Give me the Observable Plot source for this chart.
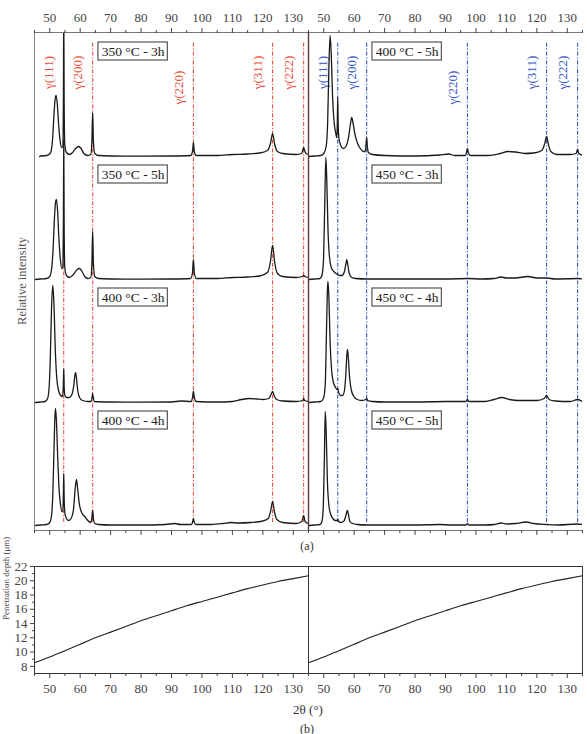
<!DOCTYPE html>
<html><head><meta charset="utf-8">
<script src="https://cdn.jsdelivr.net/npm/d3@7"></script>
<script src="https://cdn.jsdelivr.net/npm/@observablehq/plot@0.6"></script>
<style>
body{margin:0;background:#fff;}
#wrap{position:relative;width:587px;height:734px;overflow:hidden;background:#fff;font-family:"Liberation Serif","DejaVu Serif",serif;color:#333;}
.pane{position:absolute;}
.lbl{position:absolute;white-space:nowrap;transform:translate(-50%,-50%);color:#333;}
</style></head><body>
<div id="wrap">
  <div class="pane" id="aL" style="left:0;top:0"></div>
  <div class="pane" id="aR" style="left:308px;top:0"></div>
  <div class="pane" id="bL" style="left:0;top:540px"></div>
  <div class="pane" id="bR" style="left:308px;top:540px"></div>
  <div class="lbl" style="left:22px;top:281px;font-size:12.5px;color:#555;transform:translate(-50%,-50%) rotate(-90deg)">Relative intensity</div>
  <div class="lbl" style="left:307px;top:546px;font-size:12px">(a)</div>
  <div class="lbl" style="left:308px;top:710px;font-size:13px">2θ (°)</div>
  <div class="lbl" style="left:307px;top:729px;font-size:12px">(b)</div>
</div>
<script>
// ---------- data ----------
const xDomain = [45, 135];
const xTickLabels = [50, 60, 70, 80, 90, 100, 110, 120, 130];
const xMinorTicks = [45, 55, 65, 75, 85, 95, 105, 115, 125, 135];
const peakPositions = [54.6, 64.1, 97.2, 123.2, 133.4];
const peakLabels = ["γ(111)", "γ(200)", "γ(220)", "γ(311)", "γ(222)"];
const leftConditions = ["350 °C - 3h", "350 °C - 5h", "400 °C - 3h", "400 °C - 4h"];
const rightConditions = ["400 °C - 5h", "450 °C - 3h", "450 °C - 4h", "450 °C - 5h"];
const stackOffsets = [369, 246, 123, 0];

const scan350_3h = [[46.7,0],[47,0.5],[49,1],[50,2.5],[50.5,6],[51.0,20],[51.4,42],[51.8,58],[52.1,61],[52.5,52],[52.9,33],[53.4,16],[53.9,9],[54.3,10],[54.5,60],[54.6,150],[54.72,60],[54.95,12],[55.5,4],[56.5,2],[57.5,4],[58.5,8],[59.5,10],[60.3,8],[61.2,3],[62.5,1],[63.5,2],[63.85,15],[64.1,44],[64.35,15],[64.8,3],[66,1],[70,0.5],[80,0.3],[90,0.5],[96.3,1],[96.9,5],[97.2,14],[97.5,5],[98.1,1],[105,1],[110,2],[115,2.5],[119,3.5],[121.5,6],[122.5,13],[123.2,23],[123.9,12],[124.8,5],[126.5,3],[131,2],[132.7,3],[133.1,6],[133.4,9],[133.7,6],[134.2,3],[135,2]];
const scan350_5h = [[45.2,0],[47,0.5],[49,1],[50,3],[50.6,10],[51.1,30],[51.5,58],[51.9,77],[52.2,80],[52.6,68],[53.0,42],[53.5,20],[54.0,11],[54.35,12],[54.5,60],[54.6,140],[54.72,60],[54.95,12],[55.5,4],[56.5,2],[57.8,5],[59.0,10],[59.8,11],[60.6,8],[61.5,3],[62.5,1],[63.5,2],[63.85,16],[64.1,48],[64.35,16],[64.8,3],[66,1],[70,0.5],[80,0.3],[90,0.5],[96.3,1],[96.9,7],[97.2,20],[97.5,7],[98.1,1],[105,1],[110,2],[115,2.5],[119,3.5],[121.5,7],[122.5,18],[123.2,34],[123.9,17],[124.8,6],[126.5,3],[131,2],[133.0,3],[133.4,4],[133.8,3],[135,2]];
const scan400_3h = [[45.2,0],[47,0.5],[48.5,1],[49.3,4],[49.8,15],[50.2,45],[50.6,95],[51.0,117],[51.4,98],[51.8,55],[52.3,25],[52.9,12],[53.6,7],[54.2,6],[54.45,15],[54.6,34],[54.75,15],[55.0,7],[55.6,5],[56.5,5],[57.3,8],[57.9,17],[58.3,28],[58.5,30],[58.8,24],[59.2,12],[59.8,5],[60.8,2],[62.5,1],[63.6,1],[63.9,5],[64.1,9],[64.3,5],[64.7,1],[70,0.5],[80,0.3],[90,0.5],[93,1.5],[96.5,1],[96.9,5],[97.2,11],[97.5,5],[98.1,1],[105,0.5],[110,1],[113,3],[115.5,4],[118,3.5],[120,3],[122,4],[122.7,8],[123.2,11],[123.7,7],[124.5,3],[126.5,1.5],[131,1],[133.1,2],[133.4,4],[133.7,2],[135,1]];
const scan400_4h = [[45.2,0],[47,0.5],[49,1],[50,3],[50.6,10],[51.0,30],[51.4,75],[51.7,108],[51.9,117],[52.2,105],[52.6,70],[53.0,40],[53.5,22],[54.0,14],[54.3,14],[54.48,30],[54.6,52],[54.72,30],[55.0,12],[55.5,7],[56.2,5],[57.0,7],[57.8,16],[58.4,38],[58.8,46],[59.2,36],[59.7,22],[60.5,13],[61.5,9],[62.5,5],[63.5,3],[63.85,8],[64.1,15],[64.35,7],[64.8,2],[66,1],[70,0.5],[80,0.5],[88,1],[91,2],[93,1],[96.5,1],[96.9,3],[97.2,7],[97.5,3],[98.1,1],[103,1],[107,2],[109.5,3],[112,2.5],[116,3],[120,4.5],[121.8,7],[122.6,15],[123.2,24],[123.8,14],[124.6,6],[126.5,3],[131,2],[132.8,4],[133.4,10],[133.9,4],[135,2]];

const scan400_5h = [[45.2,0],[47,0.5],[49,1],[50,3],[50.8,10],[51.3,35],[51.7,90],[52.1,121],[52.5,100],[52.9,60],[53.4,35],[53.9,24],[54.3,19],[54.48,35],[54.6,59],[54.72,35],[55.0,18],[55.6,11],[56.4,8],[57.3,10],[58.2,20],[58.8,33],[59.2,39],[59.6,34],[60.2,23],[61.0,14],[62.0,8],[63.0,5],[63.6,5],[63.9,12],[64.1,19],[64.3,11],[64.7,4],[66,2],[70,1],[80,0.5],[88,1.5],[91,2.5],[93,1],[96.5,1],[96.9,4],[97.2,8],[97.5,4],[98.1,1],[104,1],[108,3],[110.5,5],[113,4.5],[116,3],[119,3.5],[121.6,6],[122.6,13],[123.2,20],[123.8,12],[124.6,5],[126.5,2],[131,2],[132.9,3],[133.4,7],[133.8,3],[135,1.5]];
const scan450_3h = [[45.2,0],[47,0.5],[48.8,1],[49.4,4],[49.9,18],[50.3,70],[50.7,122],[51.0,100],[51.4,50],[51.9,22],[52.5,12],[53.3,8],[54.0,6],[54.6,5],[55.2,4],[56.0,4],[56.8,8],[57.3,16],[57.6,20],[57.9,15],[58.4,6],[59.2,2],[60.5,1],[64,0.5],[70,0.5],[80,0.5],[90,0.5],[97.2,1],[102,0.5],[106,1],[108.2,2.5],[110,1.5],[113,1.5],[117,3],[120,1.5],[123.2,1.5],[126,0.5],[133.4,1],[135,0.5]];
const scan450_4h = [[45.2,0],[47,0.5],[49,1],[49.9,4],[50.5,18],[50.9,70],[51.2,112],[51.4,121],[51.7,105],[52.1,60],[52.6,32],[53.2,20],[53.9,15],[54.4,13],[54.6,14],[54.9,10],[55.5,7],[56.2,7],[56.8,12],[57.3,30],[57.6,48],[57.8,53],[58.1,44],[58.5,25],[59.1,12],[59.9,6],[61,3],[62.5,2],[63.8,3],[64.1,4],[64.4,2],[66,1],[70,0.5],[80,0.5],[90,1],[96.7,1],[97.2,3],[97.7,1],[103,1],[106,3],[108.5,5],[111,3],[114,2],[117,2],[120,2],[122.4,4],[123.2,7],[124,3],[126,1.5],[131,1],[133.4,3],[135,1]];
const scan450_5h = [[45.2,0],[47,0.5],[48.8,1],[49.4,4],[49.8,15],[50.2,65],[50.5,114],[50.8,95],[51.2,45],[51.7,20],[52.3,11],[53.0,7],[53.8,5],[54.4,5],[54.6,6],[54.9,4],[55.6,3],[56.5,4],[57.2,9],[57.6,14],[57.8,15],[58.1,11],[58.6,4],[59.5,2],[61,1],[64,0.5],[70,0.5],[80,0.5],[88,1],[92,0.5],[96.8,0.5],[97.2,2],[97.6,0.5],[103,0.5],[106,1],[108.3,2.5],[110,1.5],[113,2],[116.5,3.5],[119,2],[123.2,1],[127,0.5],[133.4,1.5],[135,1]];

const leftScans = [scan350_3h, scan350_5h, scan400_3h, scan400_4h];
const rightScans = [scan400_5h, scan450_3h, scan450_4h, scan450_5h];

const depthTwoTheta = [45, 50, 55, 60, 65, 70, 75, 80, 85, 90, 95, 100, 105, 110, 115, 120, 125, 130, 135];
const depthMicrons = [8.5, 9.3, 10.2, 11.1, 12.0, 12.8, 13.6, 14.4, 15.1, 15.8, 16.5, 17.1, 17.7, 18.3, 18.9, 19.4, 19.9, 20.3, 20.7];
const depthTicks = [8, 10, 12, 14, 16, 18, 20, 22];
const depthMinorTicks = [9, 11, 13, 15, 17, 19, 21];

// ---------- drawing ----------
const baseStyle = {background: "transparent", fontFamily: "Liberation Serif, DejaVu Serif, serif", fontSize: "13px", color: "#444", overflow: "visible"};
const noText = () => "";

function xrdPanel({scans, conditions, color, width, marginLeft, marginRight, leftEdge, leftEdgeWidth}) {
  const rows = scans.flatMap((s, k) => s.map(([t, v]) => ({t, v: v + stackOffsets[k], k})));
  const yDom = [-5, 493];
  return Plot.plot({
    width, height: 540, marginTop: 32, marginBottom: 10, marginLeft, marginRight,
    x: {domain: xDomain, label: null},
    y: {domain: yDom, axis: null, label: null},
    style: baseStyle,
    marks: [
      Plot.ruleX(peakPositions, {y1: 3, y2: 483, stroke: color, strokeWidth: 1.1, strokeDasharray: "4,1.8,1.2,1.8"}),
      Plot.text(peakLabels, {x: (d, i) => peakPositions[i], y: d => d === "γ(220)" ? 438 : 453, rotate: -90, dx: -15, fill: color, fontSize: 13}),
      Plot.line(rows, {x: "t", y: "v", z: "k", curve: "monotone-x", stroke: "#1a1a1a", strokeWidth: 1.3, clip: true}),
      Plot.rect(conditions, {x1: 66, x2: 88.8, y1: (d, i) => stackOffsets[i] + 96, y2: (d, i) => stackOffsets[i] + 114, fill: "white", stroke: "#555", strokeWidth: 1.2}),
      Plot.text(conditions, {x: 77.4, y: (d, i) => stackOffsets[i] + 105, fontSize: 13.5, fill: "#222"}),
      Plot.ruleY([yDom[1]], {stroke: "#777"}),
      Plot.ruleY([yDom[0]], {stroke: "#777"}),
      Plot.ruleX([xDomain[0]], {stroke: leftEdge, strokeWidth: leftEdgeWidth}),
      Plot.axisX({anchor: "top", ticks: xTickLabels, tickSize: 5, tickPadding: 6, label: null, fontSize: 13}),
      Plot.axisX({anchor: "top", ticks: xMinorTicks, tickSize: 3, tickFormat: noText, label: null}),
      Plot.axisX({anchor: "bottom", ticks: xTickLabels, tickSize: 5, tickFormat: noText, label: null}),
      Plot.axisX({anchor: "bottom", ticks: xMinorTicks, tickSize: 3, tickFormat: noText, label: null})
    ]
  });
}

function depthPanel({width, marginLeft, marginRight, showY}) {
  const pts = depthTwoTheta.map((t, i) => ({t, d: depthMicrons[i]}));
  const marks = [
    Plot.frame({stroke: "#333"}),
    Plot.line(pts, {x: "t", y: "d", curve: "natural", stroke: "#222", strokeWidth: 1.1}),
    Plot.axisX({ticks: xTickLabels, tickSize: 5, tickPadding: 5, label: null, fontSize: 13}),
    Plot.axisX({ticks: xMinorTicks, tickSize: 3, tickFormat: noText, label: null})
  ];
  if (showY) {
    marks.push(
      Plot.axisY({ticks: depthTicks, tickSize: 4, tickPadding: 3, label: null, fontSize: 13}),
      Plot.axisY({ticks: depthMinorTicks, tickSize: 2, tickFormat: noText, label: null}),
      Plot.text(["Penetration depth (μm)"], {frameAnchor: "left", dx: -28, rotate: -90, fontSize: 9, fill: "#444"})
    );
  }
  return Plot.plot({
    width, height: 170, marginTop: 26, marginBottom: 37, marginLeft, marginRight,
    x: {domain: xDomain, label: null},
    y: {domain: [7, 22], label: null, axis: showY ? undefined : null},
    style: baseStyle,
    marks
  });
}

document.getElementById("aL").append(xrdPanel({scans: leftScans, conditions: leftConditions, color: "#e8503a", width: 308, marginLeft: 34, marginRight: 0, leftEdge: "#888", leftEdgeWidth: 1}));
document.getElementById("aR").append(xrdPanel({scans: rightScans, conditions: rightConditions, color: "#3556c8", width: 279, marginLeft: 0, marginRight: 5, leftEdge: "#5c3a3a", leftEdgeWidth: 1.4}));
document.getElementById("bL").append(depthPanel({width: 308, marginLeft: 34, marginRight: 0, showY: true}));
document.getElementById("bR").append(depthPanel({width: 279, marginLeft: 0, marginRight: 5, showY: false}));
</script>
</body></html>
